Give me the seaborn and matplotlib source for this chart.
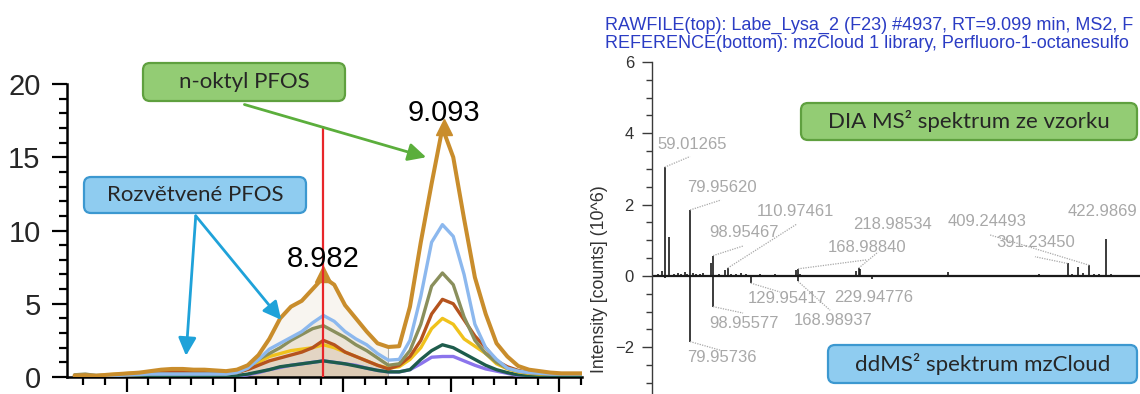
import numpy as np
import pandas as pd
import matplotlib
matplotlib.use("Agg")
import matplotlib.pyplot as plt
from matplotlib.patches import FancyBboxPatch
from matplotlib.ticker import MultipleLocator
import seaborn as sns

sns.set_theme(style="white")
plt.rcParams["font.family"] = ["Liberation Sans", "DejaVu Sans"]

# ---------------- extracted ion chromatograms (intensity x10^6) ----------------
rt = [8.752, 8.762, 8.772, 8.782, 8.792, 8.802, 8.812, 8.822, 8.832, 8.842,
      8.852, 8.862, 8.872, 8.882, 8.892, 8.902, 8.912, 8.922, 8.932, 8.942,
      8.952, 8.962, 8.972, 8.982, 8.992, 9.002, 9.012, 9.022, 9.032, 9.042,
      9.052, 9.062, 9.072, 9.082, 9.092, 9.102, 9.112, 9.122, 9.132, 9.142,
      9.152, 9.162, 9.172, 9.182, 9.192, 9.202, 9.212, 9.222]

trace_gold = [0.10, 0.12, 0.08, 0.15, 0.20, 0.25, 0.30, 0.40, 0.50, 0.55,
              0.55, 0.50, 0.50, 0.45, 0.40, 0.50, 0.80, 1.50, 2.60, 4.00,
              4.80, 5.20, 6.00, 6.80, 6.30, 4.90, 4.00, 3.10, 2.30, 2.05,
              2.10, 4.80, 9.20, 13.20, 17.00, 15.00, 10.80, 6.80, 4.30, 2.30,
              1.40, 0.75, 0.50, 0.40, 0.30, 0.25, 0.25, 0.25]
trace_blue = [0.10, 0.10, 0.10, 0.10, 0.12, 0.15, 0.18, 0.20, 0.20, 0.20,
              0.20, 0.20, 0.20, 0.20, 0.20, 0.30, 0.60, 1.20, 1.90, 2.30,
              2.70, 3.10, 3.70, 4.20, 3.80, 3.10, 2.60, 2.20, 1.60, 1.15,
              1.20, 2.50, 5.50, 9.20, 10.40, 9.60, 7.00, 3.60, 2.00, 1.20,
              0.60, 0.40, 0.30, 0.25, 0.20, 0.20, 0.20, 0.20]
trace_olive = [0.15, 0.20, 0.10, 0.10, 0.12, 0.15, 0.15, 0.20, 0.20, 0.20,
               0.20, 0.20, 0.20, 0.20, 0.20, 0.30, 0.60, 1.20, 1.60, 2.00,
               2.50, 2.90, 3.30, 3.50, 3.10, 2.70, 2.20, 1.80, 1.30, 0.80,
               0.90, 1.80, 3.60, 6.20, 7.10, 6.30, 4.10, 2.50, 1.60, 1.00,
               0.60, 0.40, 0.30, 0.25, 0.20, 0.20, 0.20, 0.20]
trace_rust = [0.10, 0.10, 0.10, 0.10, 0.12, 0.15, 0.20, 0.25, 0.30, 0.35,
              0.35, 0.30, 0.30, 0.25, 0.25, 0.30, 0.50, 0.80, 1.10, 1.30,
              1.50, 1.70, 2.00, 2.50, 2.20, 1.70, 1.40, 1.10, 0.80, 0.55,
              0.80, 1.40, 2.50, 4.30, 5.30, 5.00, 3.90, 2.80, 2.00, 1.10,
              0.70, 0.45, 0.30, 0.25, 0.20, 0.20, 0.20, 0.20]
trace_yellow = [0.10, 0.10, 0.10, 0.15, 0.20, 0.25, 0.30, 0.30, 0.30, 0.30,
                0.30, 0.30, 0.30, 0.30, 0.30, 0.40, 0.60, 1.00, 1.40, 1.60,
                1.80, 1.90, 2.00, 2.20, 2.00, 1.70, 1.40, 1.10, 0.80, 0.60,
                0.70, 1.20, 2.00, 3.30, 4.00, 3.60, 2.60, 2.10, 1.60, 0.90,
                0.55, 0.35, 0.25, 0.20, 0.20, 0.20, 0.20, 0.20]
trace_teal = [0.05, 0.05, 0.05, 0.05, 0.05, 0.05, 0.05, 0.05, 0.05, 0.05,
              0.05, 0.05, 0.05, 0.05, 0.05, 0.10, 0.20, 0.35, 0.50, 0.70,
              0.80, 0.90, 1.00, 1.10, 1.00, 0.90, 0.75, 0.60, 0.45, 0.35,
              0.35, 0.50, 1.20, 1.80, 2.20, 2.00, 1.60, 1.20, 0.80, 0.50,
              0.30, 0.15, 0.10, 0.05, 0.05, 0.05, 0.05, 0.05]
trace_purple = [0.05, 0.05, 0.05, 0.05, 0.05, 0.05, 0.05, 0.05, 0.05, 0.05,
                0.05, 0.05, 0.05, 0.05, 0.05, 0.05, 0.15, 0.30, 0.50, 0.65,
                0.80, 0.90, 1.00, 1.10, 1.00, 0.90, 0.80, 0.60, 0.45, 0.35,
                0.35, 0.50, 0.90, 1.35, 1.40, 1.40, 1.10, 0.80, 0.55, 0.40,
                0.25, 0.10, 0.05, 0.05, 0.05, 0.05, 0.05, 0.05]

peak_rt = [8.982, 9.093]
peak_labels = ["8.982", "9.093"]
window_rt = [8.912, 9.042]

# ---------------- MS2 mirror spectrum (m/z, intensity x10^6) ----------------
sample_mz = [53.5, 57.0, 59.01265, 62.3, 66.5, 70.0, 72.5, 75.5, 77.5, 79.9562,
             82.0, 85.0, 88.0, 90.5, 93.0, 97.3, 98.95467, 104.0, 108.8, 110.97461,
             114.0, 118.0, 122.0, 126.0, 133.0, 138.0, 145.0, 150.0, 158.0, 167.5,
             168.9884, 170.5, 180.0, 190.0, 200.0, 210.0, 216.5, 218.98534, 220.5, 232.0,
             245.0, 258.0, 268.0, 280.0, 292.8, 305.0, 318.0, 330.0, 342.0, 355.0,
             368.0, 380.0, 391.2345, 395.0, 399.9, 404.0, 409.24493, 413.0, 417.0, 422.9869,
             427.0, 433.0, 440.0, 446.0]
sample_int = [0.05, 0.15, 3.05, 1.10, 0.06, 0.08, 0.06, 0.10, 0.05, 1.85,
              0.08, 0.06, 0.05, 0.07, 0.04, 0.35, 0.57, 0.06, 0.18, 0.22,
              0.06, 0.05, 0.07, 0.05, 0.04, 0.06, 0.03, 0.05, 0.04, 0.18,
              0.20, 0.06, 0.04, 0.03, 0.04, 0.03, 0.15, 0.22, 0.20, 0.04,
              0.03, 0.04, 0.03, 0.04, 0.12, 0.03, 0.04, 0.03, 0.04, 0.03,
              0.05, 0.04, 0.35, 0.06, 0.25, 0.08, 0.30, 0.06, 0.05, 1.05,
              0.05, 0.04, 0.04, 0.03]
ref_mz = [59.0, 64.0, 79.95736, 98.95577, 118.0, 129.95417, 149.0, 168.98937, 180.0, 229.94776]
ref_int = [-0.05, -0.04, -1.84, -0.86, -0.04, -0.20, -0.04, -0.15, -0.04, -0.08]

# annotated fragments: (label, peak m/z, peak intensity, text m/z, text y, leader end m/z, leader end y)
frag_labels = [
    ("59.01265", 59.01265, 3.05, 52.7, 3.68, 80.0, 3.35),
    ("79.95620", 79.9562, 1.85, 77.5, 2.47, 105.5, 2.13),
    ("110.97461", 110.97461, 0.22, 135.2, 1.80, 168.2, 1.46),
    ("98.95467", 98.95467, 0.57, 95.6, 1.21, 123.7, 0.84),
    ("218.98534", 218.98534, 0.22, 214.4, 1.43, 235.0, 0.67),
    ("168.98840", 168.9884, 0.20, 193.7, 0.81, 225.1, 0.45),
    ("409.24493", 409.24493, 0.30, 292.7, 1.52, 327.3, 1.15),
    ("391.23450", 391.2345, 0.35, 332.3, 0.93, 364.4, 0.54),
    ("422.9869", 422.9869, 1.05, 391.2, 1.80, None, None),
    ("129.95417", 129.95417, -0.20, 127.8, -0.62, 154.2, -0.45),
    ("229.94776", 229.94776, -0.08, 198.7, -0.59, None, None),
    ("168.98937", 168.98937, -0.15, 165.7, -1.24, 195.4, -0.96),
    ("98.95577", 98.95577, -0.86, 95.6, -1.32, 123.7, -1.04),
    ("79.95736", 79.95736, -1.84, 77.5, -2.30, 104.7, -2.08),
]

W, H = 1140, 394
fig = plt.figure(figsize=(W / 100, H / 100), dpi=100)

# ================= chromatogram =================
ax = fig.add_axes([67 / W, 17 / H, 515 / W, 293 / H])

df = pd.DataFrame({
    "rt": rt,
    "purple": trace_purple,
    "teal": trace_teal,
    "yellow": trace_yellow,
    "rust": trace_rust,
    "olive": trace_olive,
    "blue": trace_blue,
    "gold": trace_gold,
})
order = ["purple", "teal", "yellow", "rust", "olive", "blue", "gold"]
colors = {"purple": "#8B74EC", "teal": "#1E5C4C", "yellow": "#F0C21C",
          "rust": "#B5531E", "olive": "#8A8F5C", "blue": "#8CB8EE",
          "gold": "#C98D2C"}
widths = {name: 2.4 for name in order}
widths["gold"] = 2.9
long = df.melt(id_vars="rt", var_name="trace", value_name="intensity")

# shaded integration window under the first peak
win = (df["rt"] >= window_rt[0]) & (df["rt"] <= window_rt[1])
for name in order:
    ax.fill_between(df.loc[win, "rt"], 0, df.loc[win, name],
                    color="#C4A47C", alpha=0.11, lw=0, zorder=1)
ax.vlines(window_rt[1], 0, np.interp(window_rt[1], rt, trace_gold),
          color="#B0B0B0", lw=0.8, zorder=1)

for name in order:
    sns.lineplot(data=long[long["trace"] == name], x="rt", y="intensity",
                 color=colors[name], lw=widths[name], ax=ax, legend=False,
                 estimator=None, sort=False, zorder=3)

# apex markers and retention-time labels
apex_y = np.interp(peak_rt, rt, trace_gold)
ax.plot(peak_rt, apex_y + 0.25, ls="none", marker="^", ms=11,
        color=colors["gold"], zorder=4)
ax.vlines(peak_rt[0], 0, 17.1, color="#E8262A", lw=1.6, zorder=5)
for t, y, lab in zip(peak_rt, apex_y, peak_labels):
    ax.text(t, y + 1.25, lab, ha="center", va="center", fontsize=21,
            color="black", zorder=6)

ax.set_xlim(8.745, 9.221)
ax.set_ylim(0, 20)
ax.set_xlabel("")
ax.set_ylabel("")
for s in ("top", "right"):
    ax.spines[s].set_visible(False)
for s in ("left", "bottom"):
    ax.spines[s].set_linewidth(1.8)
    ax.spines[s].set_color("black")
ax.xaxis.set_major_locator(MultipleLocator(0.1))
ax.xaxis.set_minor_locator(MultipleLocator(0.02))
ax.yaxis.set_major_locator(MultipleLocator(5))
ax.yaxis.set_minor_locator(MultipleLocator(1))
ax.tick_params(axis="both", which="both", direction="out", bottom=True,
               left=True, color="black", width=1.6)
ax.tick_params(axis="both", which="major", length=11, labelsize=21, pad=8)
ax.tick_params(axis="both", which="minor", length=6)
ax.tick_params(axis="x", labelbottom=False)
ax.patch.set_alpha(0)

# arrows
ax.annotate("", xy=(9.077, 15.0), xytext=(8.909, 18.6),
            arrowprops=dict(arrowstyle="-|>,head_length=0.9,head_width=0.45",
                            color="#5BAE3C", lw=2.0, shrinkA=0, shrinkB=0),
            annotation_clip=False, zorder=7)
for tip in [(8.855, 1.45), (8.943, 3.9)]:
    ax.annotate("", xy=tip, xytext=(8.864, 11.0),
                arrowprops=dict(arrowstyle="-|>,head_length=0.9,head_width=0.45",
                                color="#1FA2D9", lw=2.0, shrinkA=0, shrinkB=0),
                annotation_clip=False, zorder=7)

# ================= mirror spectrum =================
ax2 = fig.add_axes([652 / W, 0.0, (W - 652) / W, (H - 62) / H])
ax2.vlines(sample_mz, 0, sample_int, color="#1A1A1A", lw=1.2, zorder=3)
ax2.vlines(ref_mz, 0, ref_int, color="#1A1A1A", lw=1.2, zorder=3)
ax2.axhline(0, color="#1A1A1A", lw=1.6, zorder=2)

for lab, pmz, pint, tmz, ty, emz, ey in frag_labels:
    ax2.text(tmz, ty, lab, ha="left", va="center", fontsize=12,
             color="#A8A8A8", zorder=4)
    if emz is not None:
        ax2.plot([pmz, emz], [pint, ey], ls=(0, (1, 1)), lw=0.9,
                 color="#A8A8A8", zorder=4)

ax2.set_xlim(48.6, 451.0)
ax2.set_ylim(-3.31, 6.0)
for s in ("top", "right", "bottom"):
    ax2.spines[s].set_visible(False)
ax2.spines["left"].set_color("#3A3A3A")
ax2.spines["left"].set_linewidth(1.0)
ax2.set_xticks([])
ax2.yaxis.set_major_locator(MultipleLocator(2))
ax2.yaxis.set_minor_locator(MultipleLocator(0.5))
ax2.tick_params(axis="y", which="both", direction="out", left=True,
                color="#3A3A3A", width=1.0)
ax2.tick_params(axis="y", which="major", length=7, labelsize=12,
                labelcolor="#333333", pad=6)
ax2.tick_params(axis="y", which="minor", length=4)
ax2.set_ylabel("Intensity [counts] (10^6)", fontsize=12.8, color="#333333")
ax2.yaxis.set_label_coords(-0.09, 0.346)
ax2.patch.set_alpha(0)

fig.text(605 / W, 1 - 29.5 / H,
         "RAWFILE(top): Labe_Lysa_2 (F23) #4937, RT=9.099 min, MS2, F",
         fontsize=13, color="#2B3CC4", va="baseline", ha="left")
fig.text(605 / W, 1 - 48.5 / H,
         "REFERENCE(bottom): mzCloud 1 library, Perfluoro-1-octanesulfo",
         fontsize=13, color="#2B3CC4", va="baseline", ha="left")


# ================= callout boxes =================
def callout(x0, y0, x1, y1, text, fc, ec, fs):
    box = FancyBboxPatch((x0 / 100, (H - y1) / 100), (x1 - x0) / 100,
                         (y1 - y0) / 100,
                         boxstyle="round,pad=0,rounding_size=0.07",
                         transform=fig.dpi_scale_trans, fc=fc, ec=ec, lw=1.6,
                         zorder=8)
    fig.add_artist(box)
    fig.text((x0 + x1) / 2 / W, 1 - (y0 + y1) / 2 / H, text,
             ha="center", va="center", fontsize=fs, color="#262626",
             family=["Lato", "DejaVu Sans"], zorder=9)


green_fc, green_ec = "#93CC74", "#5FA03F"
blue_fc, blue_ec = "#8FCCF0", "#3C98D0"
callout(143, 63, 345, 101, "n-oktyl PFOS", green_fc, green_ec, 16)
callout(84, 177, 306, 213, "Rozvětvené PFOS", blue_fc, blue_ec, 16)
callout(801, 103, 1137, 140, "DIA MS² spektrum ze vzorku", green_fc, green_ec, 16)
callout(828, 345, 1137, 383, "ddMS² spektrum mzCloud", blue_fc, blue_ec, 16)

fig.savefig("out.png", dpi=100)
